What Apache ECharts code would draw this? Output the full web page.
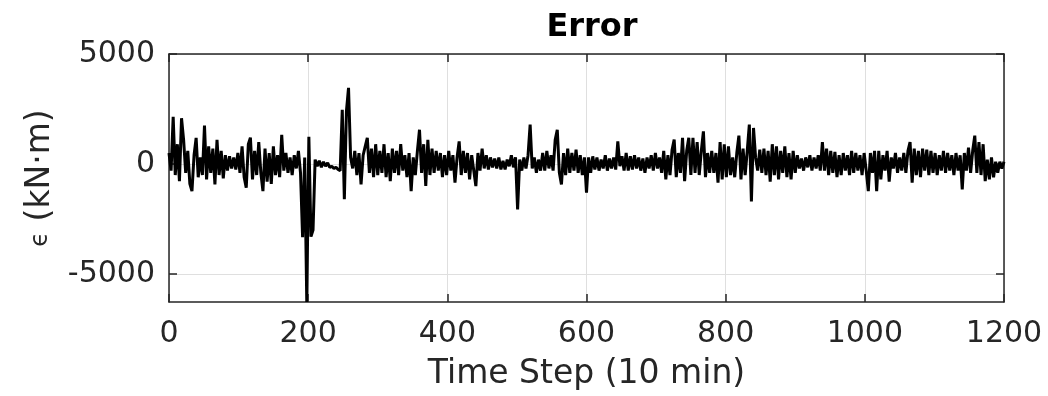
<!DOCTYPE html>
<html>
<head>
<meta charset="utf-8">
<title>Error</title>
<script src="https://cdn.jsdelivr.net/npm/echarts@6.0.0/dist/echarts.min.js"></script>
<style>
  html, body { margin: 0; padding: 0; background: #fff; }
  #chart { width: 1048px; height: 396px; }
</style>
</head>
<body>
<div id="chart"></div>
<script>
// error signal, one value every 3 time steps (0 .. 1200)
const sampleEvery = 3;
const errorValues = [
  500, -300, 2150, -500, 900, -780, 2080, 1100, -400, 600, -900, -1230, 400, 1190, -600, 300, -500, 1750, -700, 800,
  -400, 700, -930, 1100, -500, 600, -650, 400, -300, 350, -200, 300, -250, 500, -400, 800, -600, -1080, 900, 1200,
  -700, 600, -500, 1000, -400, -1230, 700, -800, 500, -900, 800, -500, 400, -600, 1330, -300, 500, -400, 300, -500,
  400, -200, 600, -400, -3330, 300, -6270, 1240, -3300, -3000, 200, -100, 150, -150, 100, -100, 50, -150, -100, -200,
  -150, -250, -300, 2460, -1600, 2400, 3460, 300, -200, 600, -500, 500, -930, 400, 800, 1190, -400, 700, -600, 900,
  -500, 600, -400, 900, -600, 500, -780, 700, -400, 600, -500, 900, -300, 400, -600, 500, -1230, 300, -500, 600,
  1560, -400, 900, -1000, 1100, -500, 700, -400, 600, -300, 500, -600, 400, -500, 600, -300, 400, -850, 300, 1030,
  -500, 600, -400, 500, -700, 400, -300, -1000, 500, -300, 700, -200, 400, -250, 300, -150, 250, -200, 300, -250,
  150, -250, 200, -100, 400, -150, 300, -2060, 200, -300, 300, -200, 400, 1790, -200, 300, -400, 200, -300, 500,
  -300, 600, -200, 400, -300, 1100, 1560, -400, -930, 500, -500, 700, -400, 500, -300, 650, -400, 400, -500, 300,
  -1300, 300, -400, 350, -250, 300, -300, 200, -200, 400, -300, 250, -200, 300, -250, 1030, -100, 350, -300, 500,
  -300, 350, -250, 400, -200, 300, -300, 250, -400, 300, -200, 400, -300, 500, -200, 300, -400, 600, -700, 400,
  -500, 650, 1110, -600, 500, -400, 1190, -780, 600, 1190, -500, 1190, -400, 1000, -500, 600, 1485, -600, 500, -400,
  600, -400, 500, -850, 1000, -700, 900, -600, 800, -500, 300, -600, 500, 1290, -700, 700, -500, 600, 1790, -1700,
  1640, 300, -300, 650, -400, 700, -500, 600, -800, 900, -500, 800, -700, 600, -400, 800, -600, 500, -700, 600,
  -400, 400, -200, 250, -300, 300, -150, 400, -300, 300, -200, 400, -300, 1000, -300, 700, -500, 600, -400, 550,
  -600, 400, -500, 500, -300, 400, -500, 600, -400, 500, -300, 400, -500, 500, -300, -1230, 500, -400, 600, -1230,
  600, -700, 400, -300, 600, -800, 300, -200, 500, -400, 300, -300, 500, -400, 600, 1000, -850, 700, -500, 600,
  -600, 700, -300, 650, -500, 600, -400, 500, -500, 400, -300, 600, -400, 500, -300, 400, -500, 500, -300, 400,
  -1150, 500, -300, 750, -400, 600, 1290, -400, 1000, -500, 900, -780, 200, -700, 300, -600, 100, -400, 100, -200,
  100
];
const timeSteps = errorValues.map((v, i) => i * sampleEvery);

const xTicks = [0, 200, 400, 600, 800, 1000, 1200];
const yTicks = [-5000, 0, 5000];
const yMin = -6270;
const yMax = 5000;

const textColor = "#262626";
const gridColor = "#dfdfdf";
const fontFamily = "DejaVu Sans";

const myChart = echarts.init(document.getElementById("chart"));

const boxLine = { show: true, onZero: false, lineStyle: { color: textColor, width: 1.5 } };
const inTick = { show: true, inside: true, length: 8, lineStyle: { color: textColor, width: 1.5 } };
const plainNumber = (v) => String(v);

const option = {
  animation: false,
  backgroundColor: "#fff",
  title: {
    text: "Error",
    left: 587,
    top: 7,
    textAlign: "center",
    textStyle: { fontFamily: fontFamily, fontSize: 32, fontWeight: "bold", color: "#000" },
  },
  grid: { left: 169, right: 44, top: 54, bottom: 93 },
  xAxis: [
    {
      type: "value",
      min: xTicks[0],
      max: xTicks[xTicks.length - 1],
      interval: 200,
      name: "Time Step (10 min)",
      nameLocation: "middle",
      nameGap: 56,
      nameTextStyle: { fontFamily: fontFamily, fontSize: 33, color: textColor },
      axisLine: boxLine,
      axisTick: inTick,
      axisLabel: { margin: 17, fontFamily: fontFamily, fontSize: 30, color: textColor, formatter: plainNumber },
      splitLine: { show: true, lineStyle: { color: gridColor, width: 1 } },
    },
    {
      // top edge of the box
      type: "value",
      position: "top",
      min: xTicks[0],
      max: xTicks[xTicks.length - 1],
      interval: 200,
      axisLine: boxLine,
      axisTick: inTick,
      axisLabel: { show: false },
      splitLine: { show: false },
    },
  ],
  yAxis: [
    {
      type: "value",
      min: yMin,
      max: yMax,
      name: "{e|ϵ} (kN·m)",
      nameLocation: "middle",
      nameGap: 109,
      nameTextStyle: {
        fontFamily: fontFamily,
        fontSize: 33,
        color: textColor,
        rich: { e: { fontFamily: fontFamily, fontSize: 24, color: textColor } },
      },
      axisLine: boxLine,
      axisTick: Object.assign({ customValues: yTicks }, inTick),
      axisLabel: {
        customValues: yTicks,
        margin: 14,
        fontFamily: fontFamily,
        fontSize: 30,
        color: textColor,
        formatter: plainNumber,
      },
      splitLine: { show: true, lineStyle: { color: gridColor, width: 1 } },
    },
    {
      // right edge of the box
      type: "value",
      position: "right",
      min: yMin,
      max: yMax,
      axisLine: boxLine,
      axisTick: Object.assign({ customValues: yTicks }, inTick),
      axisLabel: { show: false },
      splitLine: { show: false },
    },
  ],
  series: [
    {
      name: "error",
      type: "line",
      showSymbol: false,
      symbol: "none",
      lineStyle: { color: "#000", width: 3, join: "bevel" },
      data: timeSteps.map((t, i) => [t, errorValues[i]]),
      z: 3,
    },
  ],
};
myChart.setOption(option);
</script>
</body>
</html>
